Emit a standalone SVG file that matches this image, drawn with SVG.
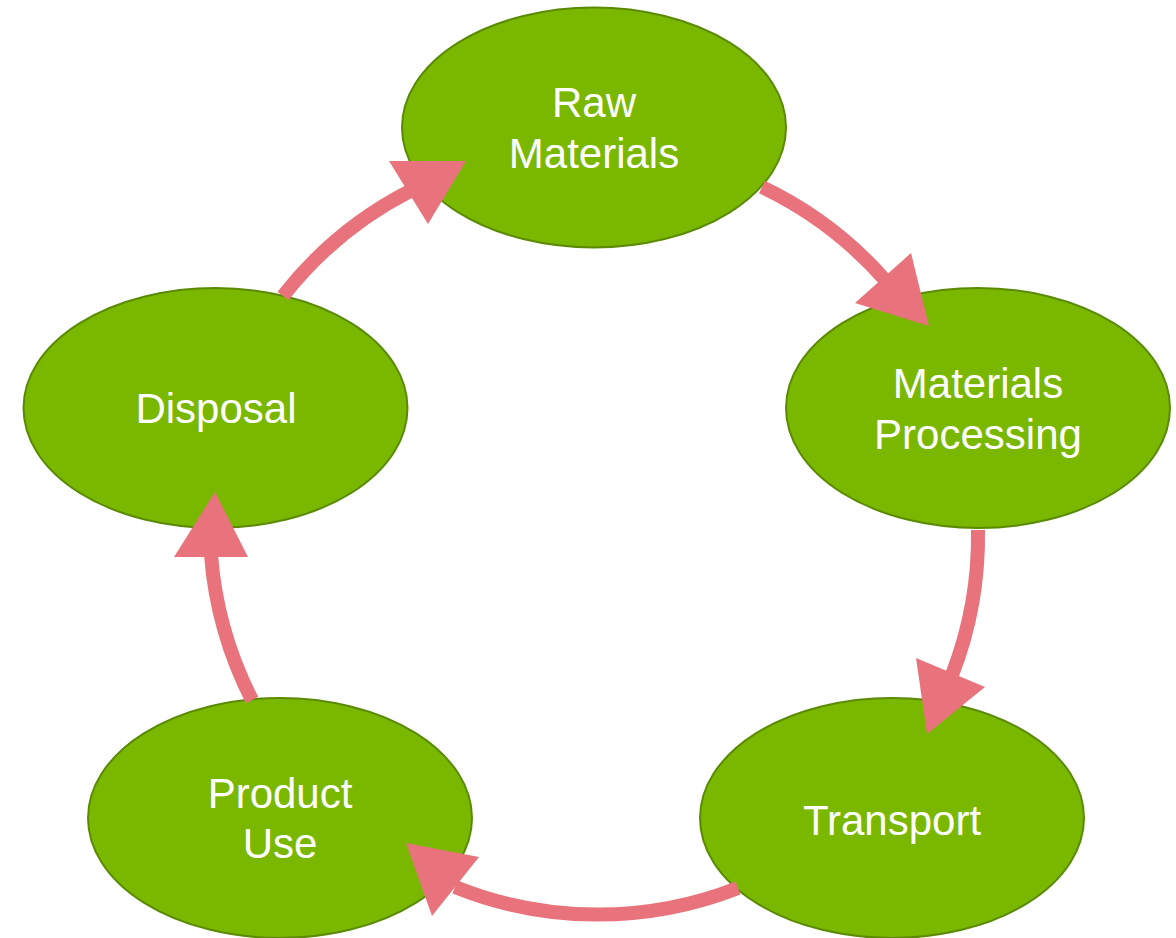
<svg xmlns="http://www.w3.org/2000/svg" width="1176" height="938" viewBox="0 0 1176 938">
<style>
.node ellipse{fill:#7AB800;stroke:#5A8A00;stroke-width:2}
.node text{fill:#FFFFFF;font-family:"Liberation Sans",Arial,sans-serif;font-size:42px;text-anchor:middle}
.shaft{fill:none;stroke:#E9737C;stroke-width:14}
.head{fill:#E9737C}
</style>
<rect width="1176" height="938" fill="#FFFFFF"/>
<g id="raw-materials" class="node">
<ellipse cx="594" cy="127.5" rx="192" ry="120"/>
<text x="594" y="117">Raw</text>
<text x="594" y="168">Materials</text>
</g>
<g id="materials-processing" class="node">
<ellipse cx="978" cy="408" rx="192" ry="120"/>
<text x="978" y="398">Materials</text>
<text x="978" y="449">Processing</text>
</g>
<g id="transport" class="node">
<ellipse cx="892" cy="818" rx="192" ry="120"/>
<text x="892" y="835">Transport</text>
</g>
<g id="product-use" class="node">
<ellipse cx="280" cy="818" rx="192" ry="120"/>
<text x="280" y="808">Product</text>
<text x="280" y="858">Use</text>
</g>
<g id="disposal" class="node">
<ellipse cx="215.5" cy="408" rx="192" ry="120"/>
<text x="216" y="423">Disposal</text>
</g>
<g id="connectors">
<path class="shaft" d="M283,296 A383,383 0 0 1 410,191"/>
<polygon class="head" points="389,161 466,161 428,224"/>
<path class="shaft" d="M762,187 A383,383 0 0 1 885,280"/>
<polygon class="head" points="911,253 929,326 855,303"/>
<path class="shaft" d="M978,530 A383,383 0 0 1 952,675"/>
<polygon class="head" points="916,658 985,687 927,734"/>
<path class="shaft" d="M738,888 A383,383 0 0 1 455,887"/>
<polygon class="head" points="406,843 479,857 432,916"/>
<path class="shaft" d="M252,700 A383,383 0 0 1 211,555"/>
<polygon class="head" points="215,492 248,557 174,557"/>
</g>
</svg>
